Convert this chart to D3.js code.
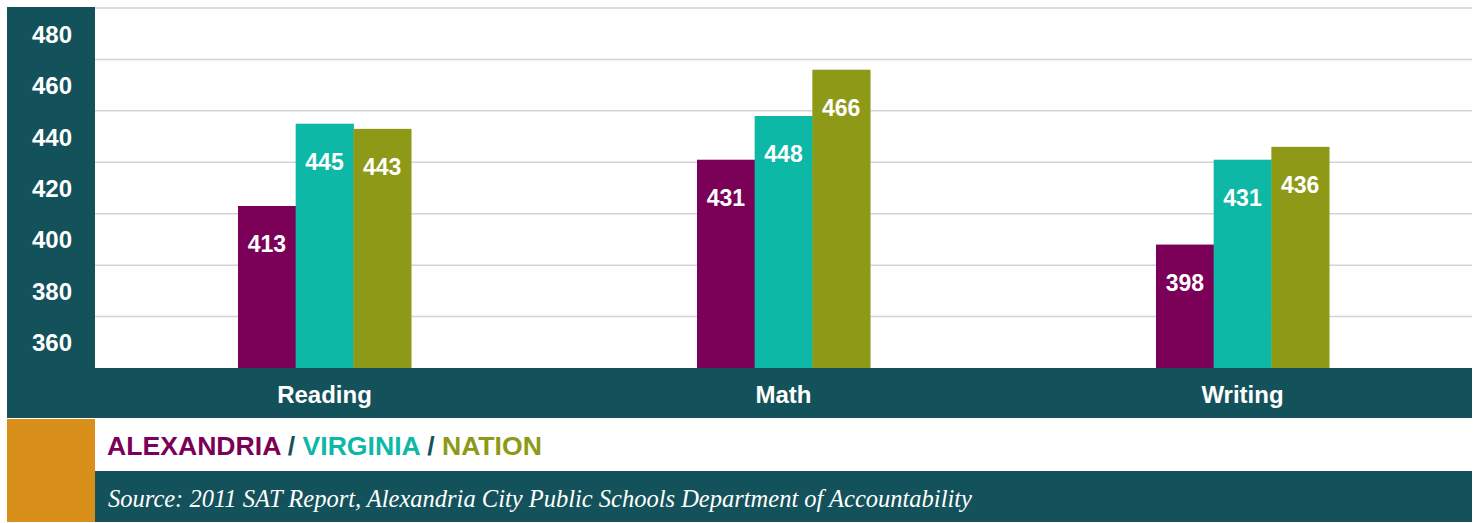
<!DOCTYPE html>
<meta charset="utf-8">
<script src="https://d3js.org/d3.v7.js"></script>
<style>
  body { margin: 0; background: #fff; }
</style>
<svg id="chart" width="1478" height="523"></svg>
<script>
    // data
    var categories = ["Reading", "Math", "Writing"];
    var series = ["ALEXANDRIA", "VIRGINIA", "NATION"];
    var alexandria = [413, 431, 398];
    var virginia = [445, 448, 431];
    var nation = [443, 466, 436];
    var yTicks = [360, 380, 400, 420, 440, 460, 480];
    var gridValues = [370, 390, 410, 430, 450, 470, 490];
    var source = "Source: 2011 SAT Report, Alexandria City Public Schools Department of Accountability";

    var colors = ["#7b0057", "#0db8a6", "#8e9a17"];
    var dark = "#14525b", orange = "#d9901a";

    var svg = d3.select("#chart");
    var left = 7, plotL = 95, right = 1472, plotT = 8, base = 368;

    var y = d3.scaleLinear().domain([350, 490]).range([base, plotT]);
    var x0 = d3.scaleBand().domain(categories).range([plotL, right]);
    var groupW = x0.bandwidth() * 0.377;
    var x1 = d3.scaleBand().domain(series).range([0, groupW]);

    // left axis panel
    svg.append("rect").attr("x", left).attr("y", plotT - 1).attr("width", plotL - left).attr("height", 418 - plotT + 1).attr("fill", dark);

    // gridlines
    svg.append("g").selectAll("line").data(gridValues).enter().append("line")
        .attr("x1", plotL).attr("x2", right)
        .attr("y1", d => y(d)).attr("y2", d => y(d))
        .attr("stroke", "#d3d3d6").attr("stroke-width", 1.5);

    // tick labels
    svg.append("g").selectAll("text").data(yTicks).enter().append("text")
        .attr("x", 52).attr("y", d => y(d) + 9)
        .attr("text-anchor", "middle")
        .attr("fill", "#fff")
        .style("font", "bold 24px 'Liberation Sans', Arial, sans-serif")
        .text(d => d);

    // bars
    var values = [alexandria, virginia, nation];
    var rows = [];
    categories.forEach(function (c, i) {
        series.forEach(function (s, j) {
            rows.push({ cat: c, ser: s, v: values[j][i], color: colors[j] });
        });
    });
    var gx = c => x0(c) + (x0.bandwidth() - groupW) / 2;

    var bars = svg.append("g").selectAll("g").data(rows).enter().append("g");
    bars.append("rect")
        .attr("x", d => gx(d.cat) + x1(d.ser))
        .attr("y", d => y(d.v))
        .attr("width", x1.bandwidth() + 0.5)
        .attr("height", d => base - y(d.v))
        .attr("fill", d => d.color);
    bars.append("text")
        .attr("x", d => gx(d.cat) + x1(d.ser) + x1.bandwidth() / 2)
        .attr("y", d => y(d.v) + 46)
        .attr("text-anchor", "middle")
        .attr("fill", "#fff")
        .style("font", "bold 23px 'Liberation Sans', Arial, sans-serif")
        .text(d => d.v);

    // category band
    svg.append("rect").attr("x", left).attr("y", base).attr("width", right - left).attr("height", 50).attr("fill", dark);
    svg.append("g").selectAll("text").data(categories).enter().append("text")
        .attr("x", d => x0(d) + x0.bandwidth() / 2)
        .attr("y", 403)
        .attr("text-anchor", "middle")
        .attr("fill", "#fff")
        .style("font", "bold 24px 'Liberation Sans', Arial, sans-serif")
        .text(d => d);

    // legend row
    svg.append("rect").attr("x", left).attr("y", 419).attr("width", plotL - left).attr("height", 103).attr("fill", orange);
    var leg = svg.append("text").attr("x", 107).attr("y", 455)
        .style("font", "bold 26.6px 'Liberation Sans', Arial, sans-serif");
    series.forEach(function (s, j) {
        if (j > 0) leg.append("tspan").attr("fill", dark).text(" / ");
        leg.append("tspan").attr("fill", colors[j]).text(s);
    });

    // source row
    svg.append("rect").attr("x", plotL).attr("y", 471).attr("width", right - plotL).attr("height", 51).attr("fill", dark);
    svg.append("text").attr("x", 108).attr("y", 507)
        .attr("fill", "#fff")
        .style("font", "italic 24.5px 'Liberation Serif', 'Times New Roman', serif")
        .text(source);
</script>
